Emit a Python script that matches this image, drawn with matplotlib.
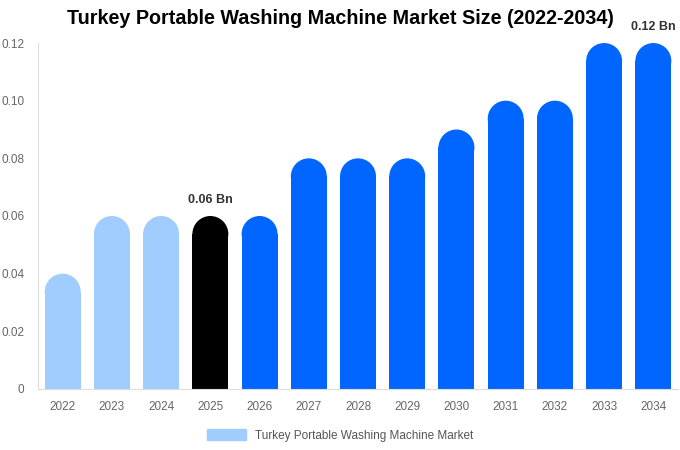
import numpy as np
import matplotlib.pyplot as plt
from matplotlib.patches import Ellipse, Patch

plt.rcParams['font.family'] = ['Liberation Sans', 'DejaVu Sans']

years = ['2022', '2023', '2024', '2025', '2026', '2027', '2028',
         '2029', '2030', '2031', '2032', '2033', '2034']
values = [0.04, 0.06, 0.06, 0.06, 0.06, 0.08, 0.08, 0.08, 0.09, 0.10, 0.10, 0.12, 0.12]
colors = ['#a0cdfd'] * 3 + ['#000000'] + ['#0066ff'] * 9
labels = {3: '0.06 Bn', 12: '0.12 Bn'}

fig = plt.figure(figsize=(6.8, 4.5), dpi=100)
ax = fig.add_axes([0.056, 0.1356, 0.941, 0.7688])
ax.set_xlim(-0.5, len(years) - 0.5)
ax.set_ylim(0, 0.12)

w = 0.73
# radius of the rounded top, in data y units so it looks circular
bbox = ax.get_window_extent()
px_per_x = bbox.width / len(years)
px_per_y = bbox.height / 0.12
r_px = w * px_per_x / 2
r_y = r_px / px_per_y

x = np.arange(len(years))
ax.bar(x, [v - r_y for v in values], width=w, color=colors, zorder=2)
for i, v in enumerate(values):
    ax.add_patch(Ellipse((x[i], v - r_y), w, 2 * r_y, facecolor=colors[i], zorder=2, lw=0))
    if i in labels:
        ax.text(x[i], v + 0.0035, labels[i], ha='center', va='bottom',
                fontsize=9, fontweight='bold', color='#333333', clip_on=False)

ax.set_xticks(x)
ax.set_xticklabels(years)
ax.set_yticks([0, 0.02, 0.04, 0.06, 0.08, 0.10, 0.12])
ax.set_yticklabels(['0', '0.02', '0.04', '0.06', '0.08', '0.10', '0.12'])
ax.tick_params(axis='both', length=0, labelsize=8.5, colors='#666666')
ax.tick_params(axis='x', pad=9)
ax.tick_params(axis='y', pad=10)
for s in ['top', 'right']:
    ax.spines[s].set_visible(False)
ax.spines['left'].set_color('#dddddd')
ax.spines['bottom'].set_color('#dddddd')

fig.suptitle('Turkey Portable Washing Machine Market Size (2022-2034)',
             x=0.5, y=0.98, fontsize=14.2, fontweight='bold')

fig.legend(handles=[Patch(color='#a0cdfd', label='Turkey Portable Washing Machine Market')],
           loc='lower center', bbox_to_anchor=(0.5, -0.005), frameon=False,
           fontsize=8.5, labelcolor='#555555', handlelength=3.3, handleheight=1.0)

fig.savefig('out.png', dpi=100)
